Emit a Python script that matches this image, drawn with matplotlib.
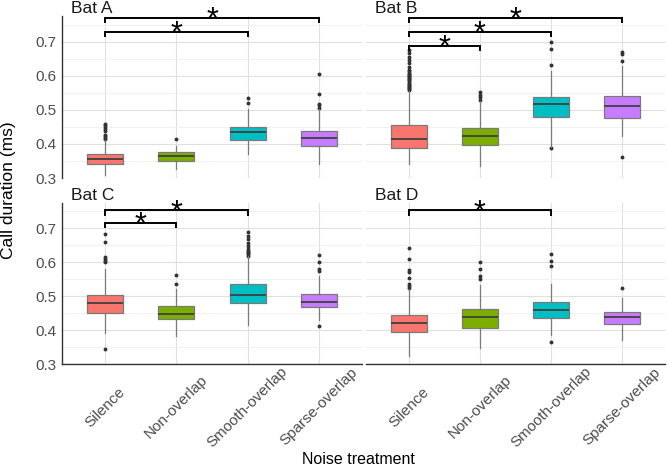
import numpy as np
import matplotlib.pyplot as plt

treatments = ['Silence', 'Non-overlap', 'Smooth-overlap', 'Sparse-overlap']
bats = ['Bat A', 'Bat B', 'Bat C', 'Bat D']
colors = ['#F8766D', '#7CAE00', '#00BFC4', '#C77CFF']

# box stats per bat, one value per treatment
q1 = {'Bat A': [0.341, 0.350, 0.412, 0.394],
      'Bat B': [0.387, 0.397, 0.479, 0.476],
      'Bat C': [0.450, 0.433, 0.479, 0.468],
      'Bat D': [0.395, 0.406, 0.437, 0.417]}
med = {'Bat A': [0.356, 0.365, 0.435, 0.417],
       'Bat B': [0.414, 0.422, 0.517, 0.511],
       'Bat C': [0.480, 0.448, 0.504, 0.484],
       'Bat D': [0.420, 0.438, 0.460, 0.440]}
q3 = {'Bat A': [0.369, 0.376, 0.451, 0.438],
      'Bat B': [0.456, 0.448, 0.538, 0.541],
      'Bat C': [0.504, 0.471, 0.535, 0.507],
      'Bat D': [0.445, 0.463, 0.483, 0.454]}
wlo = {'Bat A': [0.310, 0.327, 0.369, 0.341],
       'Bat B': [0.341, 0.334, 0.392, 0.423],
       'Bat C': [0.392, 0.382, 0.416, 0.431],
       'Bat D': [0.325, 0.346, 0.387, 0.370]}
whi = {'Bat A': [0.410, 0.393, 0.503, 0.501],
       'Bat B': [0.556, 0.525, 0.614, 0.628],
       'Bat C': [0.579, 0.520, 0.618, 0.561],
       'Bat D': [0.520, 0.534, 0.537, 0.495]}
fliers = {
    'Bat A': [[0.413, 0.418, 0.422, 0.427, 0.437, 0.444, 0.449, 0.454, 0.459],
              [0.414],
              [0.520, 0.534],
              [0.506, 0.513, 0.518, 0.545, 0.604]],
    'Bat B': [[0.559, 0.562, 0.565, 0.568, 0.571, 0.574, 0.577, 0.580, 0.583,
               0.586, 0.589, 0.592, 0.595, 0.598, 0.601, 0.605, 0.609, 0.613,
               0.618, 0.624, 0.638, 0.646, 0.655, 0.667, 0.676],
              [0.530, 0.538, 0.544, 0.552],
              [0.388, 0.631, 0.677, 0.699],
              [0.361, 0.642, 0.665, 0.670]],
    'Bat C': [[0.344, 0.600, 0.605, 0.610, 0.615, 0.661, 0.683],
              [0.536, 0.564],
              [0.620, 0.624, 0.627, 0.630, 0.633, 0.640, 0.648, 0.658, 0.668, 0.677, 0.689],
              [0.411, 0.574, 0.579, 0.601, 0.622]],
    'Bat D': [[0.525, 0.530, 0.535, 0.554, 0.571, 0.576, 0.609, 0.641],
              [0.551, 0.559, 0.579, 0.600],
              [0.364, 0.588, 0.603, 0.625],
              [0.524]],
}
# significance brackets: (from, to, height)
brackets = {'Bat A': [(1, 3, 0.729), (1, 4, 0.770)],
            'Bat B': [(1, 2, 0.688), (1, 3, 0.729), (1, 4, 0.770)],
            'Bat C': [(1, 2, 0.717), (1, 3, 0.753)],
            'Bat D': [(1, 3, 0.753)]}

W, H = 668, 467
fig = plt.figure(figsize=(W / 100, H / 100), dpi=100)
plt.rcParams['font.family'] = 'Liberation Sans'

# panel boxes in pixels: left, top, right, bottom
boxes = [(62, 16, 362, 178), (366, 16, 665, 178),
         (62, 203, 362, 364), (366, 203, 665, 364)]

grid_major = '#E0E0E0'
grid_minor = '#EFEFEF'

for i, bat in enumerate(bats):
    l, t, r, b = boxes[i]
    ax = fig.add_axes([l / W, 1 - b / H, (r - l) / W, (b - t) / H])
    ax.set_xlim(0.4, 4.6)
    ax.set_ylim(0.3, 0.775)

    stats = []
    for j in range(4):
        stats.append(dict(med=med[bat][j], q1=q1[bat][j], q3=q3[bat][j],
                          whislo=wlo[bat][j], whishi=whi[bat][j],
                          fliers=fliers[bat][j]))
    bp = ax.bxp(stats, positions=[1, 2, 3, 4], widths=0.5, patch_artist=True,
                showcaps=False,
                boxprops=dict(edgecolor='#7a7a7a', linewidth=0.9),
                whiskerprops=dict(color='#7a7a7a', linewidth=0.9),
                medianprops=dict(color='#404040', linewidth=1.3),
                flierprops=dict(marker='o', markersize=1.8, markerfacecolor='#333333',
                                markeredgecolor='#333333', linestyle='none'))
    for patch, c in zip(bp['boxes'], colors):
        patch.set_facecolor(c)
    for el in bp['whiskers'] + bp['boxes'] + bp['medians']:
        el.set_zorder(3)

    ax.set_yticks([0.3, 0.4, 0.5, 0.6, 0.7])
    ax.set_yticks([0.35, 0.45, 0.55, 0.65, 0.75], minor=True)
    ax.set_xticks([1, 2, 3, 4])
    ax.grid(True, which='major', color=grid_major, linewidth=0.8, zorder=0)
    ax.grid(True, which='minor', axis='y', color=grid_minor, linewidth=0.6, zorder=0)
    ax.set_axisbelow(True)
    ax.tick_params(length=0, which='both')
    ax.tick_params(axis='y', labelsize=11, labelcolor='#4D4D4D', pad=4)

    for s in ax.spines.values():
        s.set_visible(False)
    if i % 2 == 0:
        ax.spines['left'].set_visible(True)
        ax.spines['left'].set_color('#333333')
        ax.spines['left'].set_linewidth(1.0)
    else:
        ax.set_yticklabels([])
    if i >= 2:
        ax.spines['bottom'].set_visible(True)
        ax.spines['bottom'].set_color('#333333')
        ax.spines['bottom'].set_linewidth(1.0)
        ax.set_xticklabels(treatments, rotation=45, ha='center', va='center',
                           fontsize=11, color='#4D4D4D')
        ax.tick_params(axis='x', pad=31)
    else:
        ax.set_xticklabels([])

    # significance brackets
    for x0, x1, y in brackets[bat]:
        ax.plot([x0, x0, x1, x1], [y - 0.012, y, y, y - 0.012], color='black',
                linewidth=1.4, clip_on=False, zorder=4, solid_joinstyle='miter')
        ax.annotate('*', xy=((x0 + x1) / 2, y), xytext=(0, -8),
                    textcoords='offset points', ha='center', va='baseline',
                    fontsize=22, annotation_clip=False)

    fig.text((l + 9) / W, 1 - (t - 3) / H, bat, fontsize=12.5, color='#1A1A1A',
             ha='left', va='baseline')

fig.text(9 / W, 1 - 190 / H, 'Call duration (ms)', rotation=90, fontsize=12.5,
         ha='center', va='center', color='black')
fig.text(358 / W, 1 - 464 / H, 'Noise treatment', fontsize=11.5,
         ha='center', va='baseline', color='black')

fig.savefig('out.png', dpi=100)
